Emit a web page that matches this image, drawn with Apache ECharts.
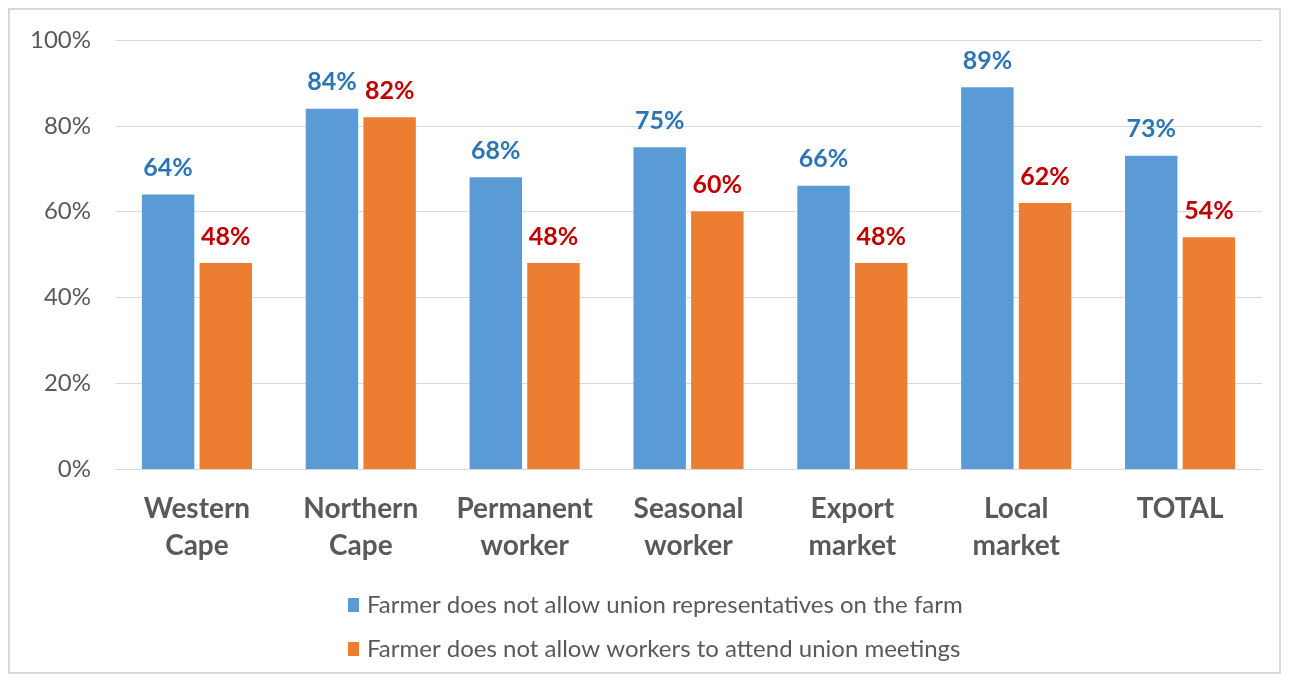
<!DOCTYPE html>
<html><head><meta charset="utf-8">
<script src="https://cdn.jsdelivr.net/npm/echarts@6/dist/echarts.min.js"></script>
<style>html,body{margin:0;padding:0;background:#fff}#box{position:absolute;left:8px;top:8px;width:1273px;height:666px;border:2px solid #d9d9d9;box-sizing:border-box}#c{position:absolute;left:0;top:0;width:1291px;height:682px}</style>
</head><body><div id="box"></div><div id="c"></div>
<script>
const categories = ['Western\nCape', 'Northern\nCape', 'Permanent\nworker', 'Seasonal\nworker', 'Export\nmarket', 'Local\nmarket', 'TOTAL'];
const seriesNames = ['Farmer does not allow union representatives on the farm', 'Farmer does not allow workers to attend union meetings'];
const repsValues = [64, 84, 68, 75, 66, 89, 73];
const meetingsValues = [48, 82, 48, 60, 48, 62, 54];
const yTicks = [0, 20, 40, 60, 80, 100];

const FONT = 'Lato, "Open Sans", sans-serif';
const chart = echarts.init(document.getElementById('c'));
chart.setOption({
  animation: false,
  grid: { left: 115, right: 29, top: 40, bottom: 213, containLabel: false },
  legend: {
    orient: 'vertical', left: 343, top: 588, itemWidth: 11, itemHeight: 14, itemGap: 20,
    icon: 'rect',
    textStyle: { color: '#595959', fontSize: 24, fontFamily: FONT, padding: [0, 0, 0, 3] },
    data: seriesNames
  },
  xAxis: {
    type: 'category', data: categories,
    axisLine: { lineStyle: { color: '#d9d9d9', width: 1 } },
    axisTick: { show: false },
    axisLabel: { interval: 0, color: '#595959', fontSize: 28, fontWeight: 'bold', fontFamily: FONT, lineHeight: 37, margin: 21 }
  },
  yAxis: {
    type: 'value', min: 0, max: 100, interval: 20,
    axisLine: { show: false }, axisTick: { show: false },
    splitLine: { lineStyle: { color: '#d9d9d9', width: 1 } },
    axisLabel: { color: '#595959', fontSize: 24, fontFamily: FONT, margin: 24, formatter: v => yTicks.includes(v) ? v + '%' : '' }
  },
  series: [
    {
      name: seriesNames[0], type: 'bar', data: repsValues, barWidth: '32%', barGap: '10%',
      itemStyle: { color: '#5b9bd5' },
      label: { show: true, position: 'top', distance: 14, formatter: '{c}%', color: '#2e75b6', fontSize: 25, fontWeight: 'bold', fontFamily: FONT }
    },
    {
      name: seriesNames[1], type: 'bar', data: meetingsValues, barWidth: '32%',
      itemStyle: { color: '#ed7d31' },
      label: { show: true, position: 'top', distance: 14, formatter: '{c}%', color: '#c00000', fontSize: 25, fontWeight: 'bold', fontFamily: FONT }
    }
  ]
});
</script></body></html>
